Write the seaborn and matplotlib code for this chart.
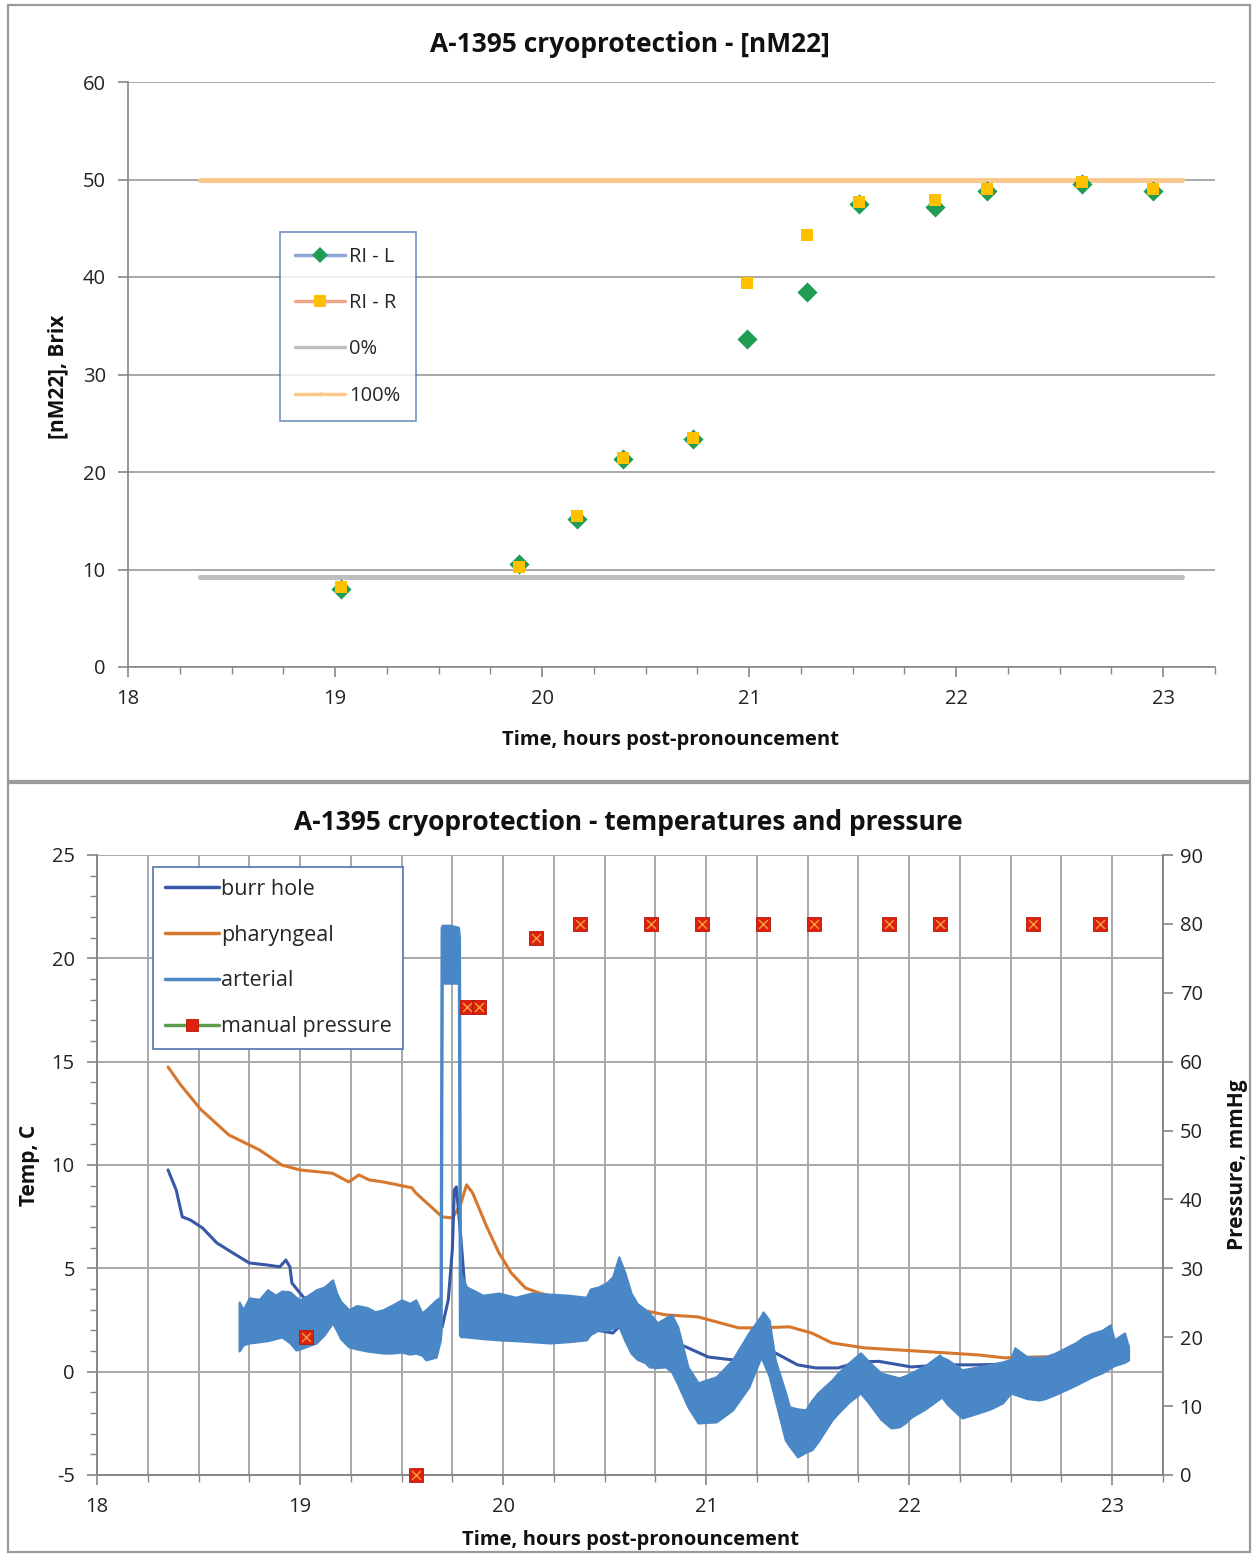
import matplotlib
matplotlib.use("Agg")
import matplotlib.pyplot as plt
from matplotlib.lines import Line2D
from matplotlib.patches import Rectangle
from matplotlib.ticker import MultipleLocator
import seaborn as sns

# ---- top chart: [nM22] refractive index samples ----
ri_time = [19.03, 19.89, 20.17, 20.39, 20.73, 20.99, 21.28, 21.53, 21.90, 22.15, 22.61, 22.95]
ri_left = [8.0, 10.6, 15.2, 21.3, 23.4, 33.6, 38.5, 47.5, 47.2, 48.8, 49.5, 48.8]
ri_right = [8.2, 10.3, 15.5, 21.4, 23.5, 39.4, 44.3, 47.7, 47.9, 49.0, 49.7, 49.0]
ref_time = [18.35, 23.09]
zero_pct = [9.2, 9.2]
full_pct = [49.9, 49.9]

# ---- bottom chart: temperatures ----
burr_t = [18.35, 18.39, 18.42, 18.46, 18.52, 18.59, 18.67, 18.75, 18.84, 18.90, 18.93, 18.95,
          18.96, 19.00, 19.02, 19.10, 19.30, 19.50, 19.66, 19.70, 19.73, 19.75, 19.76, 19.77,
          19.79, 19.82, 20.00, 20.30, 20.54, 20.59, 20.65, 20.77, 20.90, 21.01, 21.13, 21.24,
          21.27, 21.34, 21.45, 21.54, 21.65, 21.75, 21.85, 22.01, 22.18, 22.34, 22.60, 22.85, 23.08]
burr_v = [9.76, 8.79, 7.49, 7.34, 6.95, 6.23, 5.74, 5.26, 5.16, 5.07, 5.4, 5.07,
          4.29, 3.8, 3.57, 3.3, 2.8, 2.6, 2.3, 2.17, 3.47, 5.9, 8.8, 8.94,
          6.7, 3.0, 2.5, 2.3, 1.87, 2.36, 1.9, 1.68, 1.2, 0.71, 0.57, 0.96,
          1.15, 0.91, 0.33, 0.18, 0.18, 0.47, 0.5, 0.23, 0.33, 0.33, 0.4, 0.5, 0.67]

phar_t = [18.35, 18.41, 18.51, 18.65, 18.80, 18.91, 19.00, 19.16, 19.24, 19.29, 19.34, 19.41,
          19.55, 19.57, 19.70, 19.75, 19.79, 19.82, 19.85, 19.92, 19.98, 20.04, 20.11, 20.18,
          20.30, 20.44, 20.63, 20.80, 20.96, 21.16, 21.26, 21.41, 21.52, 21.62, 21.78, 21.95,
          22.18, 22.34, 22.47, 22.67, 22.85, 23.08]
phar_v = [14.74, 13.9, 12.7, 11.45, 10.73, 10.0, 9.76, 9.6, 9.18, 9.52, 9.28, 9.18,
          8.9, 8.65, 7.49, 7.44, 8.07, 9.04, 8.65, 7.0, 5.74, 4.78, 4.05, 3.8,
          3.5, 3.3, 3.08, 2.75, 2.65, 2.12, 2.12, 2.17, 1.87, 1.39, 1.15, 1.05,
          0.91, 0.81, 0.67, 0.72, 0.7, 0.96]

# arterial is a noisy trace: read as lower / upper envelope
art_t = [18.70, 18.72, 18.75, 18.80, 18.84, 18.88, 18.91, 18.95, 18.98, 19.00, 19.04, 19.08,
         19.12, 19.16, 19.18, 19.20, 19.24, 19.28, 19.33, 19.37, 19.41, 19.45, 19.50, 19.54,
         19.57, 19.60, 19.62, 19.67, 19.69, 19.695, 19.70, 19.74, 19.78, 19.785,
         19.79, 19.82, 19.90, 19.98, 20.06, 20.14, 20.23, 20.32, 20.41, 20.43, 20.47, 20.51,
         20.54, 20.57, 20.60, 20.63, 20.66, 20.70, 20.72, 20.76, 20.80, 20.83, 20.86, 20.91,
         20.96, 21.05, 21.13, 21.21, 21.27, 21.28, 21.31, 21.34, 21.39, 21.41, 21.45, 21.49,
         21.52, 21.55, 21.62, 21.65, 21.70, 21.76, 21.80, 21.86, 21.91, 21.95, 21.98, 22.01,
         22.08, 22.15, 22.16, 22.19, 22.26, 22.34, 22.40, 22.46, 22.50, 22.52, 22.58, 22.64,
         22.67, 22.72, 22.77, 22.82, 22.86, 22.90, 22.95, 22.99, 23.01, 23.06, 23.08]
art_hi = [3.37, 3.0, 3.57, 3.5, 3.96, 3.7, 3.9, 3.86, 3.6, 3.47, 3.7, 3.96,
          4.1, 4.44, 3.8, 3.4, 3.0, 3.2, 3.1, 2.9, 3.0, 3.2, 3.47, 3.3,
          3.47, 2.84, 3.0, 3.47, 3.6, 21.5, 21.6, 21.6, 21.5, 21.0,
          4.78, 4.1, 3.7, 3.8, 3.6, 3.8, 3.75, 3.7, 3.6, 4.0, 4.1, 4.3,
          4.6, 5.55, 4.78, 3.8, 3.3, 3.0, 2.84, 2.36, 2.6, 2.75, 2.17, 0.23,
          -0.54, -0.25, 0.57, 1.87, 2.7, 2.89, 2.5, 0.57, -1.0, -1.7, -1.8, -1.85,
          -1.4, -1.03, -0.4, -0.06, 0.4, 0.91, 0.5, -0.06, -0.2, -0.3, -0.2, -0.06,
          0.3, 0.81, 0.7, 0.57, 0.09, 0.23, 0.35, 0.47, 0.6, 1.15, 0.72, 0.7,
          0.72, 0.9, 1.15, 1.4, 1.68, 1.85, 2.0, 2.26, 1.54, 1.87, 1.2]
art_lo = [1.0, 1.3, 1.39, 1.45, 1.5, 1.6, 1.68, 1.4, 1.05, 1.1, 1.25, 1.39,
          1.8, 2.36, 2.0, 1.6, 1.2, 1.1, 1.0, 0.95, 0.9, 0.9, 0.95, 0.85,
          0.9, 0.8, 0.57, 0.71, 1.5, 2.0, 18.8, 18.8, 18.8, 1.8,
          1.7, 1.68, 1.6, 1.54, 1.5, 1.45, 1.39, 1.45, 1.54, 1.8, 2.02, 2.0,
          2.1, 2.2, 1.5, 0.9, 0.6, 0.43, 0.23, 0.2, 0.23, 0.0, -0.6, -1.7,
          -2.48, -2.43, -1.85, -0.74, 0.71, 0.5, -0.2, -1.37, -3.3, -3.6, -4.12, -3.9,
          -3.78, -3.4, -2.33, -2.0, -1.5, -1.03, -1.5, -2.3, -2.72, -2.67, -2.48, -2.2,
          -1.8, -1.3, -1.22, -1.6, -2.24, -2.0, -1.8, -1.51, -1.03, -1.1, -1.3, -1.37,
          -1.3, -1.1, -0.88, -0.65, -0.45, -0.25, -0.05, 0.18, 0.3, 0.45, 0.57]

# ---- bottom chart: manual pressure (right axis) ----
press_t = [19.03, 19.57, 19.82, 19.88, 20.16, 20.38, 20.73, 20.98, 21.28, 21.53, 21.90, 22.15, 22.61, 22.94]
press_v = [20, 0, 68, 68, 78, 80, 80, 80, 80, 80, 80, 80, 80, 80]

W, H = 1252, 1554
GRID = "#A8A8A8"
SPINE = "#868686"
FS = 14.5
TITLE_FS = 19

sns.set_theme(style="white")
plt.rcParams["font.family"] = ["Open Sans", "DejaVu Sans"]
plt.rcParams["axes.unicode_minus"] = False


def box(x0, y0, x1, y1):
    # pixel box -> figure fraction [left, bottom, width, height]
    return [x0 / W, 1 - y1 / H, (x1 - x0) / W, (y1 - y0) / H]


def style_ticks(ax):
    ax.tick_params(axis="both", which="both", bottom=True, left=True, direction="out")
    ax.tick_params(axis="both", which="major", length=7, width=1.2,
                   color=SPINE, labelsize=FS, pad=9, labelcolor="#222222")
    ax.tick_params(axis="both", which="minor", length=5, width=1.0, color=SPINE)


fig = plt.figure(figsize=(W / 100, H / 100), dpi=100)

# panel frames
for y0, y1 in [(5, 781), (783, 1552)]:
    fig.add_artist(Rectangle((8 / W, 1 - y1 / H), (1250 - 8) / W, (y1 - y0) / H,
                             transform=fig.transFigure, fill=False, ec="#9A9A9A", lw=1.6))

# ================= top chart =================
ax1 = fig.add_axes(box(128, 82, 1215, 667))
sns.lineplot(x=ref_time, y=zero_pct, color="#BFBFBF", linewidth=3.6, ax=ax1)
sns.lineplot(x=ref_time, y=full_pct, color="#FAC88C", linewidth=3.6, ax=ax1)
sns.scatterplot(x=ri_time, y=ri_left, marker="D", s=105, color="#1F9D55", linewidth=0, ax=ax1, zorder=3)
sns.scatterplot(x=ri_time, y=ri_right, marker="s", s=85, color="#FFC000", linewidth=0, ax=ax1, zorder=4)

ax1.set_xlim(18, 23.25)
ax1.set_ylim(0, 60)
ax1.set_xticks(range(18, 24))
ax1.xaxis.set_minor_locator(MultipleLocator(0.25))
ax1.set_yticks(range(0, 61, 10))
ax1.yaxis.grid(True, color=GRID, linewidth=1.4)
ax1.set_axisbelow(True)
style_ticks(ax1)
for side in ["top", "right"]:
    ax1.spines[side].set_visible(False)
for side in ["left", "bottom"]:
    ax1.spines[side].set_color(SPINE)
    ax1.spines[side].set_linewidth(1.2)
ax1.set_xlabel("")
ax1.set_ylabel("")

top_handles = [
    Line2D([0], [0], color="#8EA3D8", lw=2.5, marker="D", markersize=8.5,
           markerfacecolor="#1F9D55", markeredgewidth=0),
    Line2D([0], [0], color="#F2A488", lw=2.5, marker="s", markersize=8.5,
           markerfacecolor="#FFC000", markeredgewidth=0),
    Line2D([0], [0], color="#BFBFBF", lw=2.5, marker=".", markersize=2),
    Line2D([0], [0], color="#FAC88C", lw=2.5, marker="v", markersize=2),
]
leg1 = ax1.legend(top_handles, ["RI - L", "RI - R", "0%", "100%"],
                  loc="upper left", bbox_to_anchor=(280 / W, 1 - 232 / H),
                  bbox_transform=fig.transFigure, fontsize=FS, frameon=True, fancybox=False,
                  edgecolor="#4F74B0", handlelength=2.5, handletextpad=0.2,
                  labelspacing=1.3, borderpad=0.75, borderaxespad=0)
leg1.get_frame().set_linewidth(1.2)

fig.text(630 / W, 1 - 44 / H, "A-1395 cryoprotection - [nM22]", ha="center", va="center",
         fontsize=TITLE_FS, fontweight="bold", color="#111111")
fig.text(671 / W, 1 - 740 / H, "Time, hours post-pronouncement", ha="center", va="center",
         fontsize=FS, fontweight="bold", color="#111111")
fig.text(58 / W, 1 - 377 / H, "[nM22], Brix", ha="center", va="center", rotation=90,
         fontsize=FS + 0.5, fontweight="bold", color="#111111")

# ================= bottom chart =================
ax2 = fig.add_axes(box(97, 855, 1163, 1475))
ax2.fill_between(art_t, art_lo, art_hi, color="#4A87C6", edgecolor="#4A87C6", linewidth=1.6, zorder=2)
sns.lineplot(x=phar_t, y=phar_v, color="#D7772E", linewidth=2.2, ax=ax2, zorder=1, sort=False)
sns.lineplot(x=burr_t, y=burr_v, color="#3658A6", linewidth=2.2, ax=ax2, zorder=1.5, sort=False)

ax2.set_xlim(18, 23.25)
ax2.set_ylim(-5, 25)
ax2.set_xticks(range(18, 24))
ax2.xaxis.set_minor_locator(MultipleLocator(0.25))
ax2.set_yticks(range(-5, 26, 5))
ax2.yaxis.set_minor_locator(MultipleLocator(1))
ax2.grid(True, which="major", color=GRID, linewidth=1.4)
ax2.xaxis.grid(True, which="minor", color=GRID, linewidth=1.4)
ax2.set_axisbelow(True)
style_ticks(ax2)
ax2.spines["top"].set_visible(False)
for side in ["left", "bottom", "right"]:
    ax2.spines[side].set_color(SPINE)
    ax2.spines[side].set_linewidth(1.2)
ax2.set_xlabel("")
ax2.set_ylabel("")

ax2r = ax2.twinx()
sns.scatterplot(x=press_t, y=press_v, marker="s", s=100, color="#E0200E", edgecolor="#B01A0A",
                linewidth=0.6, ax=ax2r, zorder=5, clip_on=False)
sns.scatterplot(x=press_t, y=press_v, marker="x", s=40, color="#F2A23A", linewidth=1.0,
                ax=ax2r, zorder=6, clip_on=False)
ax2r.set_ylim(0, 90)
ax2r.set_yticks(range(0, 91, 10))
ax2r.tick_params(axis="y", which="major", right=True, direction="out", length=7, width=1.2,
                 color=SPINE, labelsize=FS, pad=5, labelcolor="#222222")
ax2r.spines["top"].set_visible(False)
for side in ["left", "bottom", "right"]:
    ax2r.spines[side].set_color(SPINE)
    ax2r.spines[side].set_linewidth(1.2)
ax2r.set_ylabel("")

bottom_handles = [
    Line2D([0], [0], color="#3658A6", lw=2.5),
    Line2D([0], [0], color="#D7772E", lw=2.5),
    Line2D([0], [0], color="#4A87C6", lw=2.5),
    Line2D([0], [0], color="#5E9E4E", lw=2.5, marker="s", markersize=9,
           markerfacecolor="#E0200E", markeredgecolor="#B01A0A", markeredgewidth=0.6),
]
leg2 = ax2r.legend(bottom_handles, ["burr hole", "pharyngeal", "arterial", "manual pressure"],
                   loc="upper left", bbox_to_anchor=(153 / W, 1 - 867 / H),
                   bbox_transform=fig.transFigure, fontsize=FS + 1, frameon=True, fancybox=False,
                   edgecolor="#4F74B0", framealpha=1, handlelength=2.5, handletextpad=0.1,
                   labelspacing=1.15, borderpad=0.55, borderaxespad=0)
leg2.get_frame().set_linewidth(1.2)

fig.text(628 / W, 1 - 822 / H, "A-1395 cryoprotection - temperatures and pressure",
         ha="center", va="center", fontsize=TITLE_FS, fontweight="bold", color="#111111")
fig.text(630 / W, 1 - 1540 / H, "Time, hours post-pronouncement", ha="center", va="center",
         fontsize=FS, fontweight="bold", color="#111111")
fig.text(30 / W, 1 - 1165 / H, "Temp, C", ha="center", va="center", rotation=90,
         fontsize=FS + 0.5, fontweight="bold", color="#111111")
fig.text(1237 / W, 1 - 1165 / H, "Pressure, mmHg", ha="center", va="center", rotation=90,
         fontsize=FS + 0.5, fontweight="bold", color="#111111")

fig.savefig("out.png", dpi=100)
